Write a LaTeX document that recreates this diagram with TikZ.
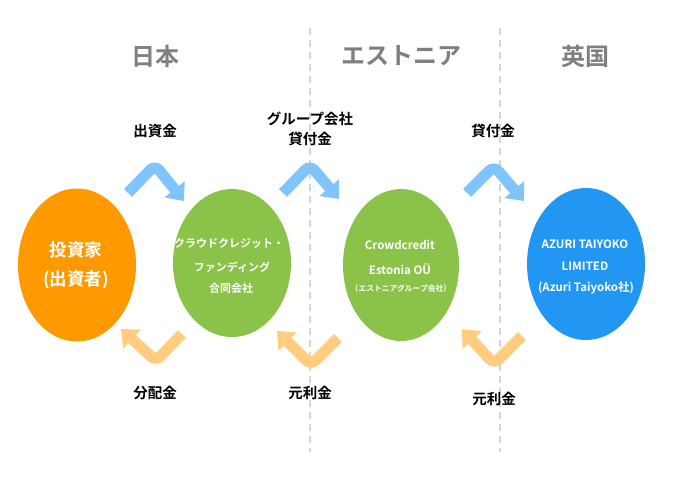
\documentclass[tikz,border=0pt]{standalone}
\usepackage{fontspec}
\setmainfont{Noto Sans CJK JP}[BoldFont={Noto Sans CJK JP Bold}]
\usetikzlibrary{shapes.geometric,arrows.meta}
\definecolor{corange}{HTML}{FF9900}
\definecolor{cgreen}{HTML}{8BC34A}
\definecolor{cblue}{HTML}{2196F3}
\definecolor{lblue}{HTML}{80C4FF}
\definecolor{lorange}{HTML}{FFCC80}
\definecolor{hgray}{HTML}{7F7F7F}
\definecolor{dgray}{HTML}{D5D5D5}
\tikzset{
  blob/.style={ellipse,inner sep=0pt,draw=none},
  btext/.style={text=white,inner sep=0pt,font=\bfseries},
  header/.style={text=hgray,font=\fontsize{24}{28}\selectfont\bfseries},
  lab/.style={font=\fontsize{14.5}{20}\selectfont\bfseries,align=center},
  sep/.style={draw=dgray,line width=1.3pt,dash pattern=on 7pt off 5pt},
  chev/.style={line width=11pt,rounded corners=7pt,-{Triangle[width=25pt,length=15pt]}},
  upchev/.style={chev,draw=lblue,color=lblue},
  dnchev/.style={chev,draw=lorange,color=lorange}
}
\begin{document}
\begin{tikzpicture}[x=1pt,y=-1pt]
\useasboundingbox (0,0) rectangle (680,480);
% separators
\coordinate (s1t) at (310,28); \coordinate (s1b) at (310,452);
\coordinate (s2t) at (500,28); \coordinate (s2b) at (500,452);
\draw[sep] (s1t) -- (s1b);
\draw[sep] (s2t) -- (s2b);
% headers
\node[header] (h1) at (155,56) {日本};
\node[header] (h2) at (401,56) {エストニア};
\node[header] (h3) at (585,56) {英国};
% entities
\node[blob,fill=corange,minimum width=118pt,minimum height=153pt] (inv) at (77,265) {};
\node[blob,fill=cgreen,minimum width=118pt,minimum height=148pt] (cc) at (232,263) {};
\node[blob,fill=cgreen,minimum width=116pt,minimum height=152pt] (ee) at (401,265) {};
\node[blob,fill=cblue,minimum width=118pt,minimum height=152pt] (az) at (586,264) {};
% entity texts
\node[btext,font=\fontsize{17.5}{20}\selectfont\bfseries] (inv1) at (76,250) {投資家};
\node[btext,font=\fontsize{17.5}{20}\selectfont\bfseries] (inv2) at (76,280) {(出資者)};
\node[btext,font=\fontsize{11}{14}\selectfont\bfseries] (cc1) at (229,243) {クラウドクレジット・};
\node[btext,font=\fontsize{11}{14}\selectfont\bfseries] (cc2) at (232,267) {ファンディング};
\node[btext,font=\fontsize{11}{14}\selectfont\bfseries] (cc3) at (231,288) {合同会社};
\node[btext,font=\fontsize{11.5}{14}\selectfont\bfseries] (ee1) at (400,245) {Crowdcredit};
\node[btext,font=\fontsize{11.5}{14}\selectfont\bfseries] (ee2) at (400,269) {Estonia OÜ};
\node[btext,font=\fontsize{7.8}{10}\selectfont\bfseries] (ee3) at (401,289) {（エストニアグループ会社）};
\node[btext,font=\fontsize{11.5}{14}\selectfont\bfseries] (az1) at (585,244) {AZURI TAIYOKO};
\node[btext,font=\fontsize{11.5}{14}\selectfont\bfseries] (az2) at (585,266) {LIMITED};
\node[btext,font=\fontsize{11.5}{14}\selectfont\bfseries] (az3) at (586,288) {(Azuri Taiyoko社)};
% upper arrows
\coordinate (a1s) at (128,193); \coordinate (a1p) at (155,165); \coordinate (a1e) at (184,201);
\coordinate (a2s) at (283,193); \coordinate (a2p) at (310,165); \coordinate (a2e) at (339,199);
\coordinate (a3s) at (467,193); \coordinate (a3p) at (494,166); \coordinate (a3e) at (524,201);
\draw[upchev] (a1s) -- (a1p) -- (a1e);
\draw[upchev] (a2s) -- (a2p) -- (a2e);
\draw[upchev] (a3s) -- (a3p) -- (a3e);
% lower arrows
\coordinate (b1s) at (182,334); \coordinate (b1v) at (156,361); \coordinate (b1e) at (121,329);
\coordinate (b2s) at (338,338); \coordinate (b2v) at (311,365); \coordinate (b2e) at (277,331);
\coordinate (b3s) at (522,336); \coordinate (b3v) at (494,364); \coordinate (b3e) at (462,329);
\draw[dnchev] (b1s) -- (b1v) -- (b1e);
\draw[dnchev] (b2s) -- (b2v) -- (b2e);
\draw[dnchev] (b3s) -- (b3v) -- (b3e);
% labels
\node[lab] (l1) at (155,131) {出資金};
\node[lab] (l2) at (310,129) {グループ会社\\貸付金};
\node[lab] (l3) at (493,131) {貸付金};
\node[lab] (l4) at (155,393) {分配金};
\node[lab] (l5) at (310,393) {元利金};
\node[lab] (l6) at (494,399) {元利金};
\end{tikzpicture}
\end{document}
